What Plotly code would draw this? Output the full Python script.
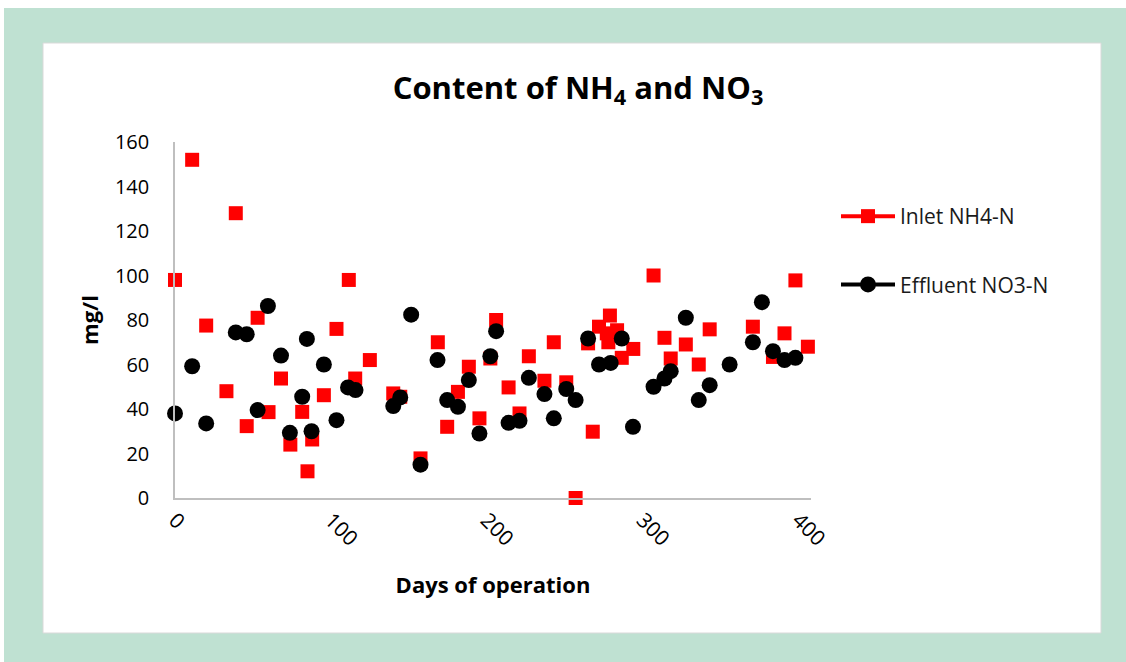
import plotly.graph_objects as go

# Inlet ammonium (NH4-N), mg/l
inlet_days = [0, 11, 20, 33, 39, 46, 53, 60, 68, 74, 81.6, 85, 88, 95.5, 103.6, 111.5,
              115.6, 125, 140, 144.5, 157.5, 168.6, 174.6, 181.5, 188.5, 195.3, 202.3, 206,
              214, 221, 227, 237, 243, 251, 257, 265, 268, 272, 277, 278, 279, 283.6, 286.6,
              294, 307, 314, 318, 327.7, 336, 343, 370.7, 383.6, 391, 398, 406]
inlet_nh4 = [98, 152, 77.5, 48, 128, 32.3, 81, 38.6, 53.7, 24, 38.7, 12, 26.3, 46.2, 76, 98,
             53.7, 62, 47, 45.5, 17.8, 70, 32, 47.7, 59, 35.8, 62.7, 80,
             49.7, 38, 63.7, 52.7, 70, 52, 0, 69.5, 29.8, 77, 74, 70, 82, 75.4, 63,
             67, 100, 72, 62.7, 69, 60, 75.8, 77, 63.4, 74, 97.8, 68]

# Effluent nitrate (NO3-N), mg/l
effluent_days = [0, 11, 20, 39, 46, 53, 59.6, 68, 73.7, 81.6, 84.6, 87.6, 95.5, 103.6, 111,
                 115.8, 140, 144.5, 151.5, 157.5, 168.4, 174.6, 181.5, 188.5, 195.3, 202.3,
                 206, 214, 221, 227, 237, 243, 251, 257, 265, 272, 279.5, 286.6, 293.8, 307,
                 314, 318, 327.7, 336, 343, 355.8, 370.7, 376.5, 383.6, 391, 398]
effluent_no3 = [38, 59.2, 33.5, 74.4, 73.6, 39.5, 86.3, 64, 29.3, 45.5, 71.5, 30, 60, 35, 49.7,
                48.5, 41.3, 45.2, 82.4, 15, 62, 44, 41, 53, 29, 63.7,
                75, 33.8, 34.7, 54, 46.7, 35.8, 49, 44, 71.7, 60, 60.7, 71.7, 32, 50,
                53.7, 57, 81, 44, 50.7, 60, 70, 88, 66, 62, 63]

x_ticks = [0, 100, 200, 300, 400]
y_ticks = [0, 20, 40, 60, 80, 100, 120, 140, 160]

W, H = 1126, 662
L, R, T, B = 175, 811, 142, 498  # plot area edges in pixels


def px(p):
    return (p - L) / (R - L)


def py(p):
    return (B - p) / (B - T)


FONT = "Open Sans"
RED = "#FF0000"
BLACK = "#000000"

fig = go.Figure()

fig.add_trace(go.Scatter(
    x=inlet_days, y=inlet_nh4, mode="markers", name="Inlet NH4-N",
    marker=dict(symbol="square", size=14, color=RED),
    showlegend=False, cliponaxis=False))
fig.add_trace(go.Scatter(
    x=effluent_days, y=effluent_no3, mode="markers", name="Effluent NO3-N",
    marker=dict(symbol="circle", size=16, color=BLACK),
    showlegend=False, cliponaxis=False))

# legend entries (line + marker keys)
fig.add_trace(go.Scatter(
    x=[None], y=[None], mode="lines+markers", name="Inlet NH4-N", legendgroup="a",
    line=dict(color=RED, width=4), marker=dict(symbol="square", size=14, color=RED)))
fig.add_trace(go.Scatter(
    x=[None], y=[None], mode="lines+markers", name="Effluent NO3-N", legendgroup="b",
    line=dict(color=BLACK, width=4), marker=dict(symbol="circle", size=16, color=BLACK)))

# green frame around the chart
fig.add_shape(type="rect", xref="paper", yref="paper",
              x0=px(4), x1=px(1126), y0=py(662), y1=py(8),
              fillcolor="#BFE1D2", line=dict(width=0), layer="below")
fig.add_shape(type="rect", xref="paper", yref="paper",
              x0=px(43), x1=px(1101), y0=py(633), y1=py(43),
              fillcolor="#FFFFFF", line=dict(width=1, color="#D9D9D9"), layer="below")

fig.update_layout(
    width=W, height=H,
    margin=dict(l=L, r=W - R, t=T, b=H - B, pad=0),
    paper_bgcolor="#FFFFFF", plot_bgcolor="rgba(0,0,0,0)",
    font=dict(family=FONT, color=BLACK, size=20),
    title=dict(text="<b>Content of NH<sub>4</sub> and NO<sub>3</sub></b>",
               xref="container", yref="container", x=578 / W, y=1 - 88 / H,
               xanchor="center", yanchor="middle",
               font=dict(family=FONT, size=31, color=BLACK)),
    legend=dict(x=px(836), y=py(196), xanchor="left", yanchor="top",
                font=dict(family=FONT, size=21, color="#1a1a1a"),
                tracegroupgap=38, traceorder="grouped", itemwidth=54,
                bgcolor="rgba(0,0,0,0)"),
    xaxis=dict(range=[0, 408], tickvals=x_ticks, ticktext=[str(v) for v in x_ticks],
               showgrid=False, zeroline=False, showline=True, linecolor="#BFBFBF",
               linewidth=1.5, ticks="", tickangle=45,
               tickfont=dict(family=FONT, size=21, color=BLACK),
               title=dict(text="<b>Days of operation</b>", standoff=27,
                          font=dict(family=FONT, size=22, color=BLACK))),
    yaxis=dict(range=[0, 160], tickvals=y_ticks, ticktext=[str(v) for v in y_ticks],
               showgrid=False, zeroline=False, showline=True, linecolor="#BFBFBF",
               linewidth=1.5, ticks="", ticklabelstandoff=20,
               tickfont=dict(family=FONT, size=20, color=BLACK),
               title=dict(text="<b>mg/l</b>", standoff=10,
                          font=dict(family=FONT, size=22, color=BLACK))),
)

fig.write_html("out.html")
